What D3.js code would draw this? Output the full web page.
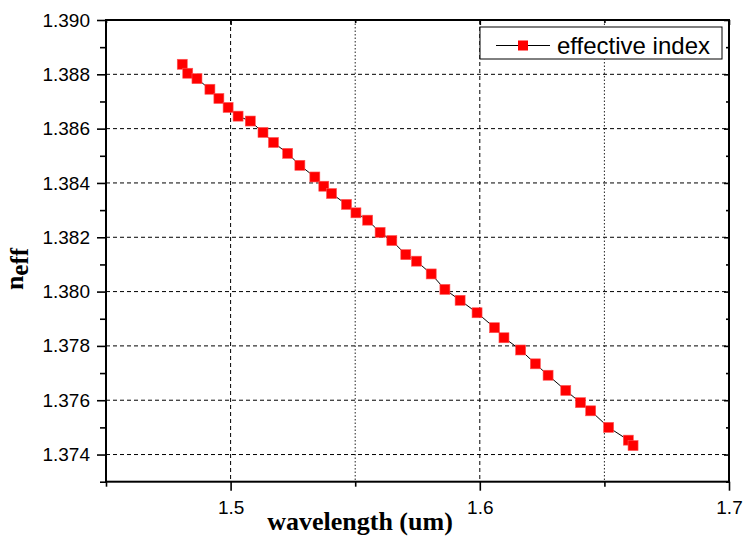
<!DOCTYPE html>
<html>
<head>
<meta charset="utf-8">
<script src="https://cdnjs.cloudflare.com/ajax/libs/d3/7.8.5/d3.min.js"></script>
<style>
  body { margin: 0; background: #fff; }
  svg { display: block; }
</style>
</head>
<body>
<div id="chart"></div>
<script>
// data
const wavelength = [1.4806, 1.4828, 1.4865, 1.4917, 1.4953, 1.4990, 1.5030, 1.5079, 1.5130, 1.5172,
  1.5229, 1.5278, 1.5338, 1.5374, 1.5405, 1.5465, 1.5503, 1.5550, 1.5600, 1.5647,
  1.5703, 1.5746, 1.5805, 1.5860, 1.5921, 1.5989, 1.6059, 1.6097, 1.6164, 1.6223,
  1.6274, 1.6345, 1.6404, 1.6445, 1.6517, 1.6596, 1.6615]
const neff = [1.38837, 1.38804, 1.38784, 1.38745, 1.38711, 1.38678, 1.38646, 1.38628, 1.38586, 1.38549,
  1.38509, 1.38465, 1.38422, 1.38388, 1.38361, 1.38321, 1.38290, 1.38263, 1.38218, 1.38188,
  1.38136, 1.38112, 1.38065, 1.38008, 1.37968, 1.37922, 1.37867, 1.37830, 1.37785, 1.37734,
  1.37692, 1.37636, 1.37591, 1.37561, 1.37500, 1.37453, 1.37433]
const xMajor = [1.5, 1.6, 1.7]
const xMinor = [1.45, 1.55, 1.65]
const yMajor = [1.374, 1.376, 1.378, 1.380, 1.382, 1.384, 1.386, 1.388, 1.390]
const yMinor = [1.373, 1.375, 1.377, 1.379, 1.381, 1.383, 1.385, 1.387, 1.389]
const seriesName = 'effective index'

const dataset = wavelength.map((w, i) => [w, neff[i]])
const xAccessor = d => d[0]
const yAccessor = d => d[1]

// Dimensions
let dimensions = {
  width: 746,
  height: 537,
  margin: { top: 20, right: 17, bottom: 55.3, left: 106 }
}
dimensions.ctrWidth = dimensions.width - dimensions.margin.left - dimensions.margin.right
dimensions.ctrHeight = dimensions.height - dimensions.margin.top - dimensions.margin.bottom

const svg = d3.select('#chart')
  .append('svg')
  .attr('width', dimensions.width)
  .attr('height', dimensions.height)

const ctr = svg.append('g')
  .attr('transform', `translate(${dimensions.margin.left}, ${dimensions.margin.top})`)

// Scales
const xScale = d3.scaleLinear()
  .domain([1.45, 1.7])
  .range([0, dimensions.ctrWidth])

const yScale = d3.scaleLinear()
  .domain([1.373, 1.390])
  .range([dimensions.ctrHeight, 0])

// grid
ctr.append('g')
  .selectAll('line')
  .data(yMajor.filter(v => v < 1.390))
  .join('line')
  .attr('x1', 0).attr('x2', dimensions.ctrWidth)
  .attr('y1', d => yScale(d)).attr('y2', d => yScale(d))
  .attr('stroke', '#000').attr('stroke-width', 1)
  .attr('stroke-dasharray', '4,3')

ctr.append('g')
  .selectAll('line')
  .data(xMajor.filter(v => v < 1.7))
  .join('line')
  .attr('x1', d => xScale(d)).attr('x2', d => xScale(d))
  .attr('y1', 0).attr('y2', dimensions.ctrHeight)
  .attr('stroke', '#000').attr('stroke-width', 1)
  .attr('stroke-dasharray', '4,3')

ctr.append('g')
  .selectAll('line')
  .data(xMinor.filter(v => v > 1.45))
  .join('line')
  .attr('x1', d => xScale(d)).attr('x2', d => xScale(d))
  .attr('y1', 0).attr('y2', dimensions.ctrHeight)
  .attr('stroke', '#222').attr('stroke-width', 1)
  .attr('stroke-dasharray', '1.5,2')

// Axes
const tickFont = '"Liberation Sans", Arial, sans-serif'

const yAxis = d3.axisLeft(yScale)
  .tickValues(yMajor)
  .tickFormat(d3.format('.3f'))
  .tickSize(9)
  .tickPadding(7)
ctr.append('g').call(yAxis)

ctr.append('g').call(d3.axisLeft(yScale).tickValues(yMinor).tickFormat('').tickSize(6))

const xAxis = d3.axisBottom(xScale)
  .tickValues(xMajor)
  .tickFormat(d3.format('.1f'))
  .tickSize(9)
  .tickPadding(10)
ctr.append('g')
  .attr('transform', `translate(0, ${dimensions.ctrHeight})`)
  .call(xAxis)

ctr.append('g')
  .attr('transform', `translate(0, ${dimensions.ctrHeight})`)
  .call(d3.axisBottom(xScale).tickValues(xMinor).tickFormat('').tickSize(5))

// mirrored ticks on top and right, pointing inward
ctr.append('g')
  .attr('transform', `translate(${dimensions.ctrWidth}, 0)`)
  .call(d3.axisRight(yScale).tickValues(yMinor).tickFormat('').tickSize(-3))
ctr.append('g')
  .attr('transform', `translate(${dimensions.ctrWidth}, 0)`)
  .call(d3.axisRight(yScale).tickValues(yMajor).tickFormat('').tickSize(-5))
ctr.append('g')
  .call(d3.axisTop(xScale).tickValues(xMajor).tickFormat('').tickSize(-5))
ctr.append('g')
  .call(d3.axisTop(xScale).tickValues(xMinor).tickFormat('').tickSize(-3))

ctr.selectAll('.domain').remove()
ctr.selectAll('.tick line').attr('stroke', '#000').attr('stroke-width', 1.6)
ctr.selectAll('.tick text')
  .attr('font-family', tickFont)
  .attr('font-size', 19)
  .attr('fill', '#000')

// frame
ctr.append('rect')
  .attr('width', dimensions.ctrWidth)
  .attr('height', dimensions.ctrHeight)
  .attr('fill', 'none')
  .attr('stroke', '#000')
  .attr('stroke-width', 2)

// line + markers
const lineGenerator = d3.line()
  .x(d => xScale(xAccessor(d)))
  .y(d => yScale(yAccessor(d)))

ctr.append('path')
  .datum(dataset)
  .attr('d', lineGenerator)
  .attr('fill', 'none')
  .attr('stroke', '#000')
  .attr('stroke-width', 1)

const ms = 10
ctr.append('g')
  .selectAll('rect')
  .data(dataset)
  .join('rect')
  .attr('x', d => xScale(xAccessor(d)) - ms / 2)
  .attr('y', d => yScale(yAccessor(d)) - ms / 2)
  .attr('width', ms)
  .attr('height', ms)
  .attr('fill', '#ff0000')
  .attr('stroke', '#ff5555')
  .attr('stroke-width', 0.6)

// legend
const legend = svg.append('g').attr('transform', 'translate(480, 27)')
legend.append('rect')
  .attr('width', 242).attr('height', 32)
  .attr('fill', '#fff').attr('stroke', '#000').attr('stroke-width', 1)
legend.append('line')
  .attr('x1', 16).attr('x2', 70).attr('y1', 18.5).attr('y2', 18.5)
  .attr('stroke', '#000').attr('stroke-width', 1)
legend.append('rect')
  .attr('x', 43 - ms / 2).attr('y', 18.5 - ms / 2)
  .attr('width', ms).attr('height', ms)
  .attr('fill', '#ff0000')
legend.append('text')
  .attr('x', 77).attr('y', 27)
  .attr('font-family', tickFont)
  .attr('font-size', 24)
  .text(seriesName)

// axis titles
const titleFont = '"Liberation Serif", "Times New Roman", serif'
svg.append('text')
  .attr('x', 360).attr('y', 530)
  .attr('text-anchor', 'middle')
  .attr('font-family', titleFont)
  .attr('font-weight', 'bold')
  .attr('font-size', 26)
  .text('wavelength (um)')

const yTitle = svg.append('text')
  .attr('transform', 'translate(23, 269) rotate(-90)')
  .attr('text-anchor', 'middle')
  .attr('font-family', titleFont)
  .attr('font-weight', 'bold')
  .attr('font-size', 26)
yTitle.append('tspan').text('n')
yTitle.append('tspan').attr('dy', 5).attr('font-size', 25).text('eff')
</script>
</body>
</html>
